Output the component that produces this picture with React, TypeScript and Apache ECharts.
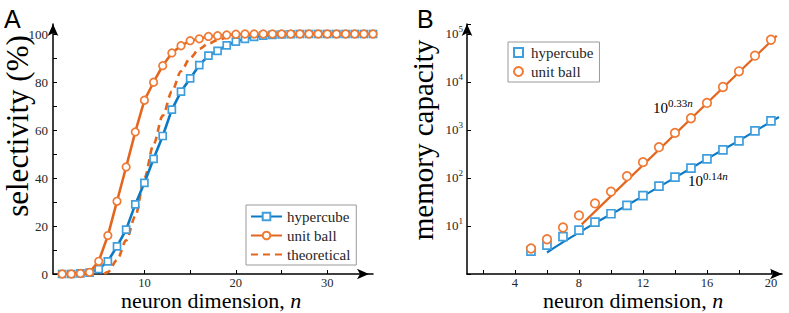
import React, { useEffect, useRef } from "react";
import * as echarts from "echarts";

// ---------- Panel A data ----------
const nA = [1, 2, 3, 4, 5, 6, 7, 8, 9, 10, 11, 12, 13, 14, 15, 16, 17, 18, 19, 20, 21, 22, 23, 24, 25, 26, 27, 28, 29, 30, 31, 32, 33, 34, 35];
const hypercubeA = [0, 0, 0.3, 0.6, 2, 5.3, 11.5, 18.5, 29, 38, 48, 57.5, 68.5, 76, 81.5, 87, 91, 93, 95.3, 96.8, 98, 98.8, 99.3, 99.6, 99.8, 99.9, 100, 100, 100, 100, 100, 100, 100, 100, 100];
const unitBallA = [0, 0, 0.2, 0.7, 5.3, 16, 30.3, 44.6, 59.2, 72.4, 79.9, 86.8, 92.1, 95.1, 97.2, 98, 99, 99.3, 99.6, 99.9, 100, 100, 100, 100, 100, 100, 100, 100, 100, 100, 100, 100, 100, 100, 100];
const theoryN = [5.6, 6, 7, 8, 9, 10, 11, 12, 13, 14, 15, 16, 17, 18, 19, 20, 21, 22, 23, 24];
const theoryA = [0, 0.8, 5.8, 14, 24, 40, 54, 66, 76, 84.5, 90, 93.8, 96, 97.5, 98.5, 99.2, 99.6, 99.8, 99.9, 100];
const xTicksA = [5, 10, 15, 20, 25, 30];
const xLabelsA = [10, 20, 30];
const yTicksA = [0, 10, 20, 30, 40, 50, 60, 70, 80, 90, 100];
const yLabelsA = [0, 20, 40, 60, 80, 100];

// ---------- Panel B data ----------
const nB = [5, 6, 7, 8, 9, 10, 11, 12, 13, 14, 15, 16, 17, 18, 19, 20];
const hypercubeB = [3.0, 4.0, 6.0, 8.2, 12, 18, 27, 43, 68, 104, 160, 250, 385, 593, 957, 1545];
const unitBallB = [3.4, 5.3, 9.3, 16.6, 29.5, 52, 109, 214, 438, 870, 1755, 3660, 7870, 16700, 35300, 75900];
const fitBallN = [8.17, 20.36];
const fitBallV = [10.8, 92000];
const fitCubeN = [6, 7, 8, 9, 10, 12, 14, 16, 18, 20.5];
const fitCubeV = [2.8, 4.6, 7.3, 11.5, 17.5, 42, 102, 250, 600, 1870];
const xTicksB = [2, 4, 6, 8, 10, 12, 14, 16, 18, 20];
const xLabelsB = [4, 8, 12, 16, 20];

const SERIF = "Liberation Serif";
const SANS = "Liberation Sans";
const TXT = "#262626";
const BLUE_LINE = "#0b79c4";
const BLUE_MARK = "#3f9fdd";
const ORANGE_LINE = "#e3661f";
const ORANGE_MARK = "#ef7a34";

const axisLineStyle = (offsetEnd: number) => ({
  onZero: false,
  lineStyle: { color: "#000", width: 1.5 },
  symbol: ["none", "arrow"],
  symbolSize: [8, 12],
  symbolOffset: [0, offsetEnd],
});

export default function App() {
  const ref = useRef<HTMLDivElement>(null);
  useEffect(() => {
    if (!ref.current) return;
    const chart = echarts.init(ref.current, null, { renderer: "svg" });
    const tickLabel = { fontFamily: SERIF, fontSize: 13, color: TXT };
    const xTickLabel = { fontFamily: SERIF, fontSize: 12.5, color: TXT, lineHeight: 12 };
    const titleRich = {
      r: { fontFamily: SERIF, fontSize: 22, color: "#000", lineHeight: 20 },
      i: { fontFamily: SERIF, fontSize: 22, fontStyle: "italic", color: "#000", lineHeight: 20 },
    };
    const supRich = {
      a: { fontFamily: SERIF, fontSize: 15, color: TXT },
      b: { fontFamily: SERIF, fontSize: 11, color: TXT, padding: [0, 0, 10, 0] },
      c: { fontFamily: SERIF, fontSize: 11, fontStyle: "italic", color: TXT, padding: [0, 0, 10, 0] },
    };
    const option: any = {
      animation: false,
      backgroundColor: "#fff",
      textStyle: { fontFamily: SERIF },
      grid: [
        { left: 53, right: 416, top: 24, bottom: 39, containLabel: false },
        { left: 467, right: 7, top: 24, bottom: 39, containLabel: false },
      ],
      xAxis: [
        {
          gridIndex: 0, type: "value", min: 0, max: 35,
          axisLine: axisLineStyle(-4),
          axisTick: { inside: true, length: 4, customValues: xTicksA, lineStyle: { color: "#000", width: 1 } },
          axisLabel: { ...xTickLabel, customValues: xLabelsA, margin: 3 },
          splitLine: { show: false },
        },
        {
          gridIndex: 1, type: "value", min: 1, max: 20.69,
          axisLine: axisLineStyle(0),
          axisTick: { inside: true, length: 4, customValues: xTicksB, lineStyle: { color: "#000", width: 1 } },
          axisLabel: { ...xTickLabel, customValues: xLabelsB, margin: 3 },
          splitLine: { show: false },
        },
      ],
      yAxis: [
        {
          gridIndex: 0, type: "value", min: 0, max: 104.17,
          axisLine: axisLineStyle(0),
          axisTick: { inside: true, length: 4, customValues: yTicksA, lineStyle: { color: "#000", width: 1 } },
          axisLabel: { ...tickLabel, customValues: yLabelsA, margin: 5 },
          splitLine: { show: false },
        },
        {
          gridIndex: 1, type: "log", logBase: 10, min: 1, max: 161500, splitNumber: 5,
          axisLine: axisLineStyle(0),
          axisTick: { inside: true, length: 4, lineStyle: { color: "#000", width: 1 } },
          axisLabel: {
            margin: 4,
            fontFamily: SERIF,
            formatter: (v: number) => {
              const e = Math.log10(v);
              const r = Math.round(e);
              if (Math.abs(e - r) > 1e-6 || r === 0) return "";
              return `{b|10}{s|${r}}`;
            },
            rich: {
              b: { fontFamily: SERIF, fontSize: 13, color: TXT },
              s: { fontFamily: SERIF, fontSize: 9, color: TXT, padding: [0, 0, 9, 0] },
            },
          },
          splitLine: { show: false },
          minorTick: { show: false },
        },
      ],
      legend: [
        {
          orient: "vertical", left: 246, top: 205,
          data: [
            { name: "hypercube" },
            { name: "unit ball" },
            { name: "theoretical", itemStyle: { opacity: 0 } },
          ],
          itemWidth: 31, itemHeight: 9.5, itemGap: 4,
          padding: [4, 6, 3, 4],
          borderColor: "#9a9a9a", borderWidth: 1,
          selectedMode: false,
          textStyle: { fontFamily: SERIF, fontSize: 15, color: TXT, lineHeight: 15 },
        },
        {
          orient: "vertical", left: 508, top: 42,
          data: ["hypercube (B)", "unit ball (B)"],
          formatter: (name: string) => name.replace(" (B)", ""),
          itemWidth: 9, itemHeight: 9, itemGap: 4,
          padding: [3, 6, 3, 5],
          borderColor: "#9a9a9a", borderWidth: 1,
          selectedMode: false,
          textStyle: { fontFamily: SERIF, fontSize: 15, color: TXT, lineHeight: 15, padding: [0, 0, 0, 3] },
        },
      ],
      series: [
        {
          name: "theoretical", type: "line", xAxisIndex: 0, yAxisIndex: 0,
          data: theoryN.map((n, i) => [n, theoryA[i]]),
          symbol: "none", smooth: 0.3, smoothMonotone: "x",
          lineStyle: { color: ORANGE_LINE, width: 2.6, type: [7, 5] },
          itemStyle: { color: ORANGE_LINE },
          z: 2,
        },
        {
          name: "hypercube", type: "line", xAxisIndex: 0, yAxisIndex: 0,
          data: nA.map((n, i) => [n, hypercubeA[i]]),
          symbol: "rect", symbolSize: 7,
          lineStyle: { color: BLUE_LINE, width: 2.6 },
          itemStyle: { color: "#fff", borderColor: BLUE_MARK, borderWidth: 1.7 },
          z: 3,
        },
        {
          name: "unit ball", type: "line", xAxisIndex: 0, yAxisIndex: 0,
          data: nA.map((n, i) => [n, unitBallA[i]]),
          symbol: "circle", symbolSize: 7.5,
          lineStyle: { color: ORANGE_LINE, width: 2.6 },
          itemStyle: { color: "#fff", borderColor: ORANGE_MARK, borderWidth: 1.7 },
          z: 4,
        },
        {
          name: "fit cube", type: "line", xAxisIndex: 1, yAxisIndex: 1,
          data: fitCubeN.map((n, i) => [n, fitCubeV[i]]),
          symbol: "none", smooth: 0.2,
          lineStyle: { color: BLUE_LINE, width: 2.2 },
          z: 2,
        },
        {
          name: "fit ball", type: "line", xAxisIndex: 1, yAxisIndex: 1,
          data: fitBallN.map((n, i) => [n, fitBallV[i]]),
          symbol: "none",
          lineStyle: { color: ORANGE_LINE, width: 2.2 },
          z: 2,
        },
        {
          name: "hypercube (B)", type: "scatter", xAxisIndex: 1, yAxisIndex: 1,
          data: nB.map((n, i) => [n, hypercubeB[i]]),
          symbol: "rect", symbolSize: 8,
          itemStyle: { color: "#fff", borderColor: BLUE_MARK, borderWidth: 1.7, opacity: 1 },
          z: 3,
        },
        {
          name: "unit ball (B)", type: "scatter", xAxisIndex: 1, yAxisIndex: 1,
          data: nB.map((n, i) => [n, unitBallB[i]]),
          symbol: "circle", symbolSize: 8.5,
          itemStyle: { color: "#fff", borderColor: ORANGE_MARK, borderWidth: 1.7, opacity: 1 },
          z: 4,
        },
      ],
      graphic: [
        { type: "text", x: 4, y: 19, style: { text: "A", fontFamily: SANS, fontSize: 25, fill: "#000", align: "left", verticalAlign: "middle", textAlign: "left", textVerticalAlign: "middle" } },
        { type: "text", x: 417, y: 19, style: { text: "B", fontFamily: SANS, fontSize: 25, fill: "#000", align: "left", verticalAlign: "middle", textAlign: "left", textVerticalAlign: "middle" } },
        {
          type: "text", x: 17, y: 126, rotation: Math.PI / 2,
          style: { text: "selectivity (%)", fontFamily: SERIF, fontSize: 31, fill: "#000", align: "center", verticalAlign: "middle", textAlign: "center", textVerticalAlign: "middle" },
        },
        {
          type: "text", x: 423, y: 140, rotation: Math.PI / 2,
          style: { text: "memory capacity", fontFamily: SERIF, fontSize: 29, fill: "#000", align: "center", verticalAlign: "middle", textAlign: "center", textVerticalAlign: "middle" },
        },
        {
          type: "text", x: 211, y: 300,
          style: { text: "{r|neuron dimension, }{i|n}", align: "center", verticalAlign: "middle", textAlign: "center", textVerticalAlign: "middle", rich: titleRich },
        },
        {
          type: "text", x: 633, y: 300,
          style: { text: "{r|neuron dimension, }{i|n}", align: "center", verticalAlign: "middle", textAlign: "center", textVerticalAlign: "middle", rich: titleRich },
        },
        {
          type: "text", x: 653, y: 108,
          style: { text: "{a|10}{b|0.33}{c|n}", align: "left", verticalAlign: "middle", textAlign: "left", textVerticalAlign: "middle", rich: supRich },
        },
        {
          type: "text", x: 688, y: 181,
          style: { text: "{a|10}{b|0.14}{c|n}", align: "left", verticalAlign: "middle", textAlign: "left", textVerticalAlign: "middle", rich: supRich },
        },
      ],
    };
    chart.setOption(option);
    return () => chart.dispose();
  }, []);
  return (
    <div
      ref={ref}
      style={{ position: "fixed", left: 0, top: 0, width: 789, height: 313, background: "#fff" }}
    />
  );
}
